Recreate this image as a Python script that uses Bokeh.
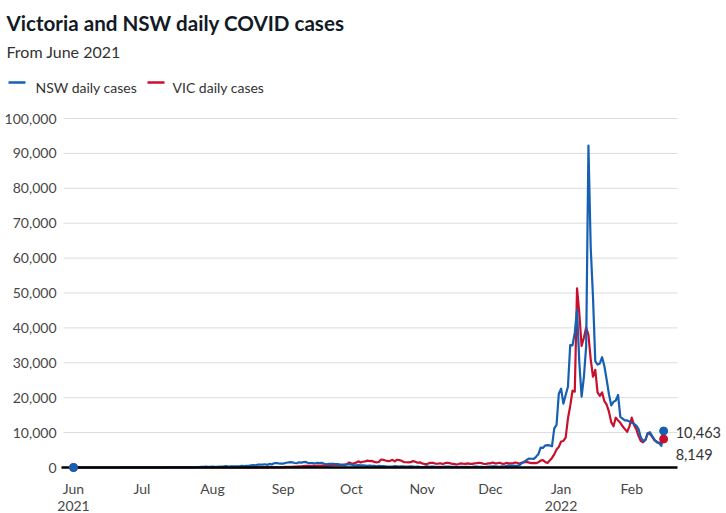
import pandas as pd
from bokeh.plotting import figure
from bokeh.models import Range1d
from bokeh.core.properties import value
from bokeh.embed import file_html
from bokeh.resources import INLINE

# ---------------- data (daily reported cases) ----------------
start_date = "2021-06-01"
nsw_jun = [0] * 16 + [3, 4, 2, 6, 5, 11, 11, 16, 22, 29, 30, 19, 19, 22]
nsw_jul = [24, 31, 35, 16, 35, 27, 38, 44, 27, 50, 77, 112, 89, 97, 65, 105, 111, 98, 78, 110,
           124, 98, 136, 124, 141, 145, 172, 177, 239, 170, 210]
nsw_aug = [239, 207, 199, 262, 291, 319, 390, 262, 344, 356, 345, 344, 390, 466, 415, 478, 452, 633, 681, 644,
           825, 830, 818, 919, 753, 1029, 882, 1218, 1290, 1164, 1116]
nsw_sep = [1116, 1288, 1431, 1533, 1485, 1281, 1220, 1480, 1405, 1542, 1599, 1257, 1262, 1259, 1127, 1351, 1284, 1331, 1083, 935,
           1022, 1063, 1043, 1007, 961, 787, 863, 667, 863, 941]
nsw_oct = [813, 667, 623, 667, 608, 587, 580, 477, 580, 496, 496, 360, 444, 406, 399, 301, 265, 273, 283, 372,
           345, 294, 332, 296, 282, 268, 304, 268, 177, 236, 173]
nsw_nov = [135, 173, 308, 187, 249, 241, 180, 170, 185, 216, 255, 250, 261, 177, 163, 185, 215, 216, 209, 177,
           182, 141, 180, 250, 261, 201, 222, 150, 170, 261]
nsw_dec = [271, 337, 325, 291, 208, 314, 260, 420, 516, 559, 536, 485, 536, 804, 1360, 1742, 2213, 2566, 2501, 2482,
           3057, 3763, 5715, 5612, 6288, 6394, 6324, 6062, 11201, 12226, 21151]
nsw_jan = [22577, 18278, 20794, 23131, 35054, 34994, 38625, 45098, 30062, 20293, 25870, 34759, 92264, 63018, 48768,
           30505, 29504, 29830, 31600, 29000, 25168, 21000, 17800, 18800, 19200, 20800, 14500, 14000, 13500, 13500, 13200]
nsw_feb = [12800, 12500, 12000, 11000, 8600, 7600, 7800, 9800, 10100, 9000, 8000, 7200, 7000, 6200, 10463]

vic_jun = [5, 3, 11, 4, 2, 5, 3, 2, 1, 1, 3, 1, 1, 0, 2, 0, 0, 0, 0, 0, 0, 0, 1, 3, 0, 0, 2, 1, 0, 2]
vic_jul = [0, 0, 0, 1, 1, 0, 0, 0, 0, 0, 0, 0, 0, 2, 10, 19, 13, 12, 11, 10, 26, 14, 14, 12, 16, 10, 11, 3, 2, 3, 1]
vic_aug = [5, 3, 6, 6, 6, 3, 10, 11, 14, 20, 21, 21, 15, 23, 25, 24, 22, 55, 57, 61,
           65, 61, 64, 71, 45, 80, 79, 64, 92, 73, 76]
vic_sep = [120, 176, 208, 190, 183, 246, 246, 324, 334, 392, 450, 473, 392, 445, 423, 514, 510, 535, 567, 507,
           603, 628, 766, 733, 847, 779, 705, 867, 950, 1438]
vic_oct = [1143, 1220, 1377, 1763, 1420, 1638, 1763, 1965, 1838, 1890, 1612, 1466, 1571, 2297, 2179, 1993, 1838, 1903, 2189, 1749,
           2232, 2099, 1935, 1550, 1510, 1461, 1534, 1841, 1656, 1355, 1471]
vic_nov = [1173, 989, 941, 1247, 1343, 1313, 1069, 1126, 1221, 1003, 1237, 1362, 1273, 1052, 1029, 860, 1007, 1179, 1069, 1034,
           1193, 1029, 1062, 1180, 1254, 1362, 1252, 1061, 1007, 1188]
vic_dec = [1179, 1419, 1188, 1209, 1365, 1130, 1051, 1312, 1196, 1206, 1274, 1433, 1290, 1189, 1405, 1505, 1622, 1393, 1240, 1302,
           1245, 1503, 1999, 2095, 1608, 1302, 1999, 2738, 3767, 5137, 5919]
vic_jan = [7442, 7600, 8577, 14020, 17636, 21997, 21728, 51356, 44155, 34808, 37169, 40127, 37994, 31000, 26000,
           28000, 21500, 20500, 21500, 19000, 18000, 16000, 13000, 11800, 14300, 13500, 12800, 11800, 11000, 10200, 11800]
vic_feb = [14300, 12200, 11000, 9000, 7600, 7200, 8000, 9800, 9600, 8800, 7800, 7400, 7000, 7300, 8149]

month_starts = ["2021-06-01", "2021-07-01", "2021-08-01", "2021-09-01", "2021-10-01",
                "2021-11-01", "2021-12-01", "2022-01-01", "2022-02-01"]
month_labels = ["Jun", "Jul", "Aug", "Sep", "Oct", "Nov", "Dec", "Jan", "Feb"]
year_labels = ["2021", "", "", "", "", "", "", "2022", ""]
y_ticks = [0, 10000, 20000, 30000, 40000, 50000, 60000, 70000, 80000, 90000, 100000]

title_text = "Victoria and NSW daily COVID cases"
subtitle_text = "From June 2021"
series_names = ["NSW daily cases", "VIC daily cases"]

NSW_COLOR = "#1660b2"
VIC_COLOR = "#c8102e"
FONT = "Lato"
TEXT = "#333333"
TICK = "#474747"

nsw = nsw_jun + nsw_jul + nsw_aug + nsw_sep + nsw_oct + nsw_nov + nsw_dec + nsw_jan + nsw_feb
vic = vic_jun + vic_jul + vic_aug + vic_sep + vic_oct + vic_nov + vic_dec + vic_jan + vic_feb
t0 = pd.Timestamp(start_date)
dates = pd.date_range(start_date, periods=len(nsw), freq="D")
days = [(d - t0).days for d in dates]
month_days = [(pd.Timestamp(m) - t0).days for m in month_starts]

# ---------------- scale set-up (one frame that fills the canvas) ----------------
W, H = 726, 513
ORIGIN = 0                     # the canvas sits at the page's top-left corner
X0, PX_DAY = 73.0, 2.2785      # page x of first day, pixels per day
Y0, PX_K = 467.0, 3.49         # page y of zero, pixels per 1,000 cases


def xd(px):
    return (px - X0) / PX_DAY


def yd(py):
    return (Y0 - py) / PX_K * 1000


plot_left, plot_right = xd(63), xd(677)

p = figure(width=W, height=H, output_backend="svg", toolbar_location=None, title=None,
           x_range=Range1d(xd(ORIGIN), xd(ORIGIN + W)), y_range=Range1d(yd(ORIGIN + H), yd(ORIGIN)),
           x_axis_location=None, y_axis_location=None,
           min_border=0, min_border_left=0, min_border_right=0, min_border_top=0, min_border_bottom=0)
p.grid.visible = False
p.outline_line_color = None
p.background_fill_color = "white"
p.border_fill_color = "white"

# horizontal grid lines and y tick labels
grid_ticks = [t for t in y_ticks if t > 0]
p.segment(x0=[plot_left] * len(grid_ticks), x1=[plot_right] * len(grid_ticks),
          y0=grid_ticks, y1=grid_ticks, line_color="#dcdcdc", line_width=1)
p.text(x=[plot_left] * len(y_ticks), y=y_ticks, text=[f"{t:,}" for t in y_ticks],
       x_offset=-7, text_align="right", text_baseline="middle",
       text_font=value(FONT), text_font_size="14px", text_color=TICK)

# x tick labels (month, year below where needed)
p.text(x=month_days, y=[yd(488)] * len(month_days), text=month_labels,
       text_align="center", text_baseline="alphabetic",
       text_font=value(FONT), text_font_size="14px", text_color=TICK)
yr_days = [d for d, y in zip(month_days, year_labels) if y]
p.text(x=yr_days, y=[yd(505.5)] * len(yr_days), text=[y for y in year_labels if y],
       text_align="center", text_baseline="alphabetic",
       text_font=value(FONT), text_font_size="14px", text_color=TICK)

# series
p.line(days, vic, line_color=VIC_COLOR, line_width=2.2, line_join="round")
p.line(days, nsw, line_color=NSW_COLOR, line_width=2.2, line_join="round")

# zero baseline
p.segment(x0=[xd(61)], x1=[plot_right], y0=[0], y1=[0], line_color="#000000", line_width=2.6)

# start & end markers
p.scatter([days[0]], [vic[0]], size=8, color=VIC_COLOR)
p.scatter([days[0]], [nsw[0]], size=8, color=NSW_COLOR)
p.scatter([days[-1]], [nsw[-1]], size=8, color=NSW_COLOR)
p.scatter([days[-1]], [vic[-1]], size=8, color=VIC_COLOR)

# end-value labels (nudged apart so they don't overlap)
end_vals = [nsw[-1], vic[-1]]
end_shift = [-1.8, -15.7]   # pixels above the point for the text baseline
p.text(x=[days[-1]] * 2, y=[v + s / PX_K * 1000 for v, s in zip(end_vals, end_shift)],
       text=[f"{v:,}" for v in end_vals], x_offset=12, text_align="left",
       text_baseline="alphabetic", text_font=value(FONT), text_font_size="14.5px",
       text_color=TEXT)

# header
p.text(x=[xd(6)], y=[yd(22.5)], text=[title_text], text_font=value(FONT),
       text_font_style="bold", text_font_size="20.6px", text_color="#121a26",
       text_baseline="alphabetic")
p.text(x=[xd(6)], y=[yd(50.5)], text=[subtitle_text], text_font=value(FONT),
       text_font_size="16px", text_color=TEXT, text_baseline="alphabetic")

# legend
p.segment(x0=[xd(8), xd(147)], x1=[xd(25), xd(164)], y0=[yd(82)] * 2, y1=[yd(82)] * 2,
          line_color=[NSW_COLOR, VIC_COLOR], line_width=2.5)
p.text(x=[xd(35), xd(172)], y=[yd(87)] * 2, text=series_names, text_font=value(FONT),
       text_font_size="14px", text_color=TEXT, text_baseline="alphabetic")

open("out.html", "w").write(file_html(p, INLINE))
